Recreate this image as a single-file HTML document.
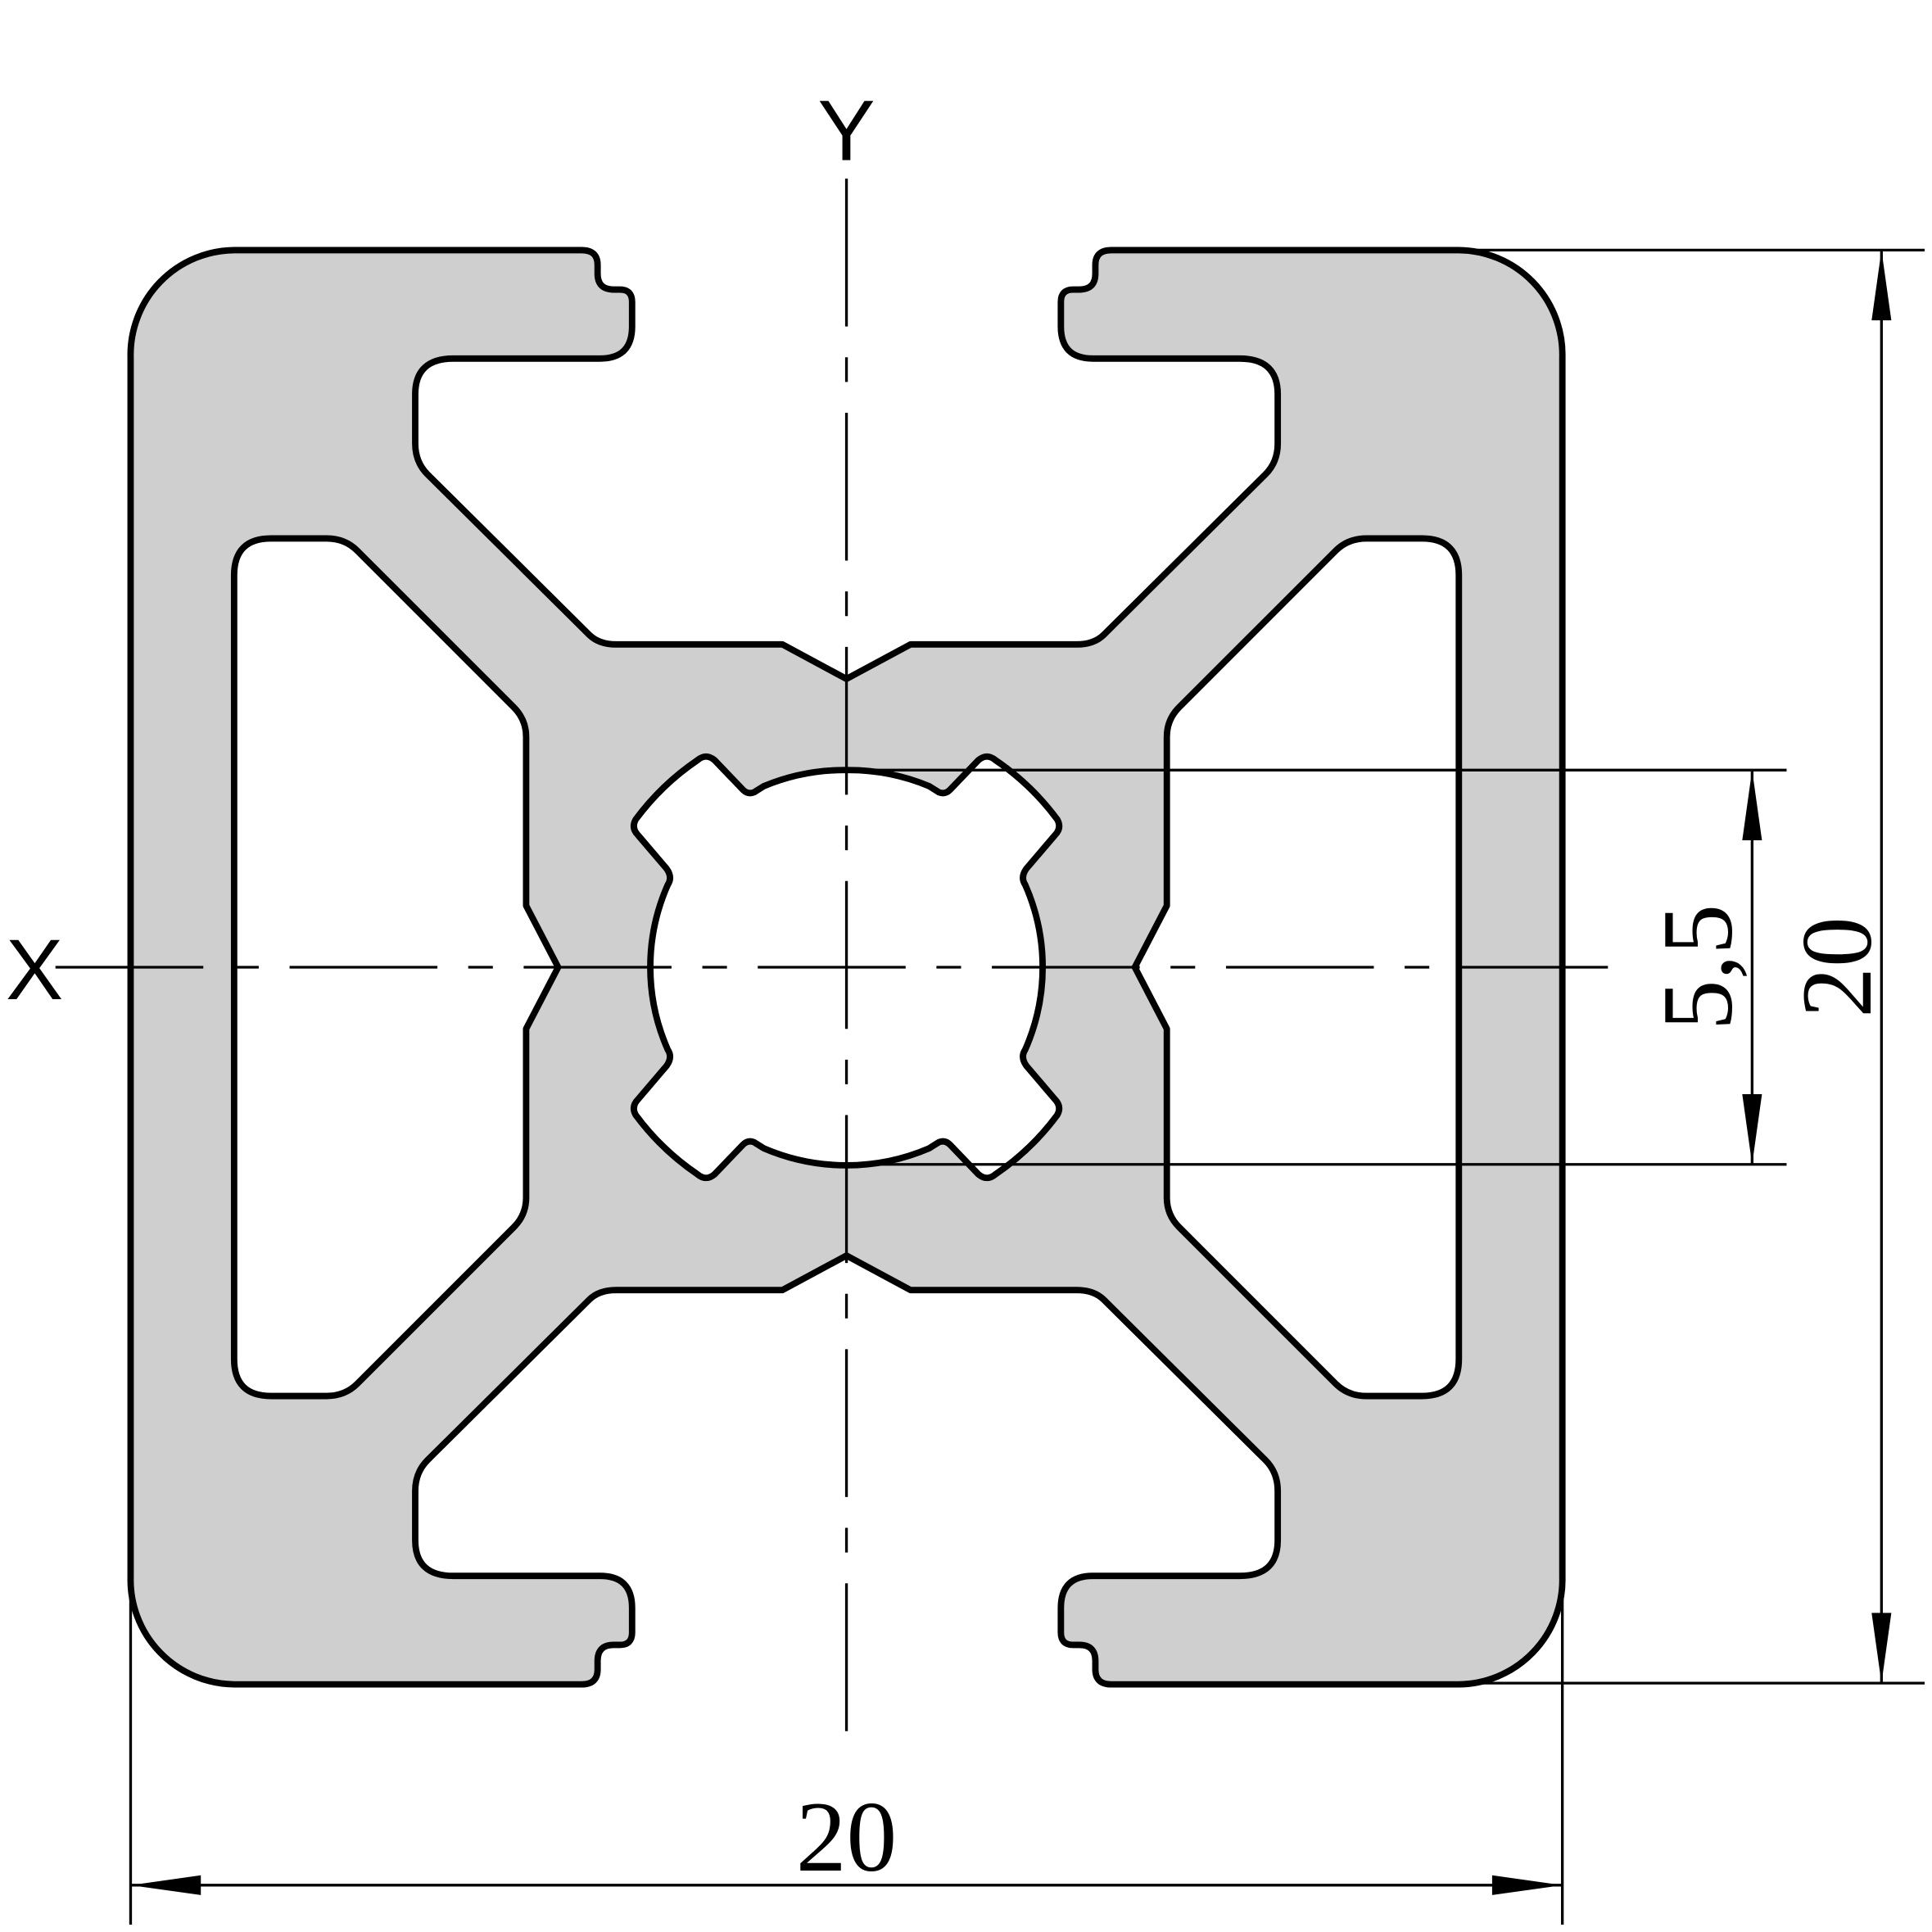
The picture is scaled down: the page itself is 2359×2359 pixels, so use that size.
<!DOCTYPE html>
<html><head><meta charset="utf-8"><style>html,body{margin:0;padding:0;background:#fff}svg{display:block}</style></head>
<body>
<svg width="2359" height="2359" viewBox="0 0 1568 1568" xmlns="http://www.w3.org/2000/svg">
<path fill="#cfcfcf" fill-rule="evenodd" stroke="#000" stroke-width="5.2" stroke-linejoin="round" d="
M106,290 A85,85 0 0 1 190,203 H472 Q485,203 485,215 V222 Q485,235 498,235 H503 Q513,235 513,245 V265 Q513,291 487,291 H368 Q337,291 337,320 V360 Q337,375 347,385 L478,515 Q486,523 500,523 H635 L687,551 L739,523 H874 Q888,523 896,515 L1027,385 Q1037,375 1037,360 V320 Q1037,291 1006,291 H887 Q861,291 861,265 V245 Q861,235 871,235 H876 Q889,235 889,222 V215 Q889,203 902,203 H1184 A85,85 0 0 1 1268,290
V1280 A85,85 0 0 1 1184,1367 H902 Q889,1367 889,1355 V1348 Q889,1335 876,1335 H871 Q861,1335 861,1325 V1305 Q861,1279 887,1279 H1006 Q1037,1279 1037,1250 V1210 Q1037,1195 1027,1185 L896,1055 Q888,1047 874,1047 H739 L687,1019 L635,1047 H500 Q486,1047 478,1055 L347,1185 Q337,1195 337,1210 V1250 Q337,1279 368,1279 H487 Q513,1279 513,1305 V1325 Q513,1335 503,1335 H498 Q485,1335 485,1348 V1355 Q485,1367 472,1367 H190 A85,85 0 0 1 106,1280 Z
M220,437 H265 Q280,437 290,447 L417,574 Q427,584 427,598 V735 L453,785 L427,835 V972 Q427,986 417,996 L290,1123 Q280,1133 265,1133 H220 Q190,1133 190,1103 V467 Q190,437 220,437 Z
M1154,437 H1109 Q1094,437 1084,447 L957,574 Q947,584 947,598 V735 L921,785 L947,835 V972 Q947,986 957,996 L1084,1123 Q1094,1133 1109,1133 H1154 Q1184,1133 1184,1103 V467 Q1184,437 1154,437 Z
M687,625 A170,170 0 0 0 620,638 L612,643 Q607,645 603,641 L580,617 Q573,611 566,617 A207,207 0 0 0 516,665 Q512,672 518,678 L541,705 Q546,712 542,718 A165,165 0 0 0 542,852 Q546,858 541,865 L518,892 Q512,898 516,905 A207,207 0 0 0 566,953 Q573,959 580,953 L603,929 Q607,925 612,927 L620,932 A170,170 0 0 0 754,932 L762,927 Q767,925 771,929 L794,953 Q801,959 808,953 A207,207 0 0 0 858,905 Q862,898 856,892 L833,865 Q828,858 832,852 A165,165 0 0 0 832,718 Q828,712 833,705 L856,678 Q862,672 858,665 A207,207 0 0 0 808,617 Q801,611 794,617 L771,641 Q767,645 762,643 L754,638 A170,170 0 0 0 687,625 Z"/>
<g stroke="#000" stroke-width="2.2" fill="none">
<line x1="45" y1="785" x2="1330" y2="785" stroke-dasharray="120 25 20 25"/>
<line x1="687" y1="145" x2="687" y2="1425" stroke-dasharray="120 25 20 25"/>
<line x1="1190" y1="203" x2="1562" y2="203"/>
<line x1="1190" y1="1366" x2="1562" y2="1366"/>
<line x1="1527" y1="203" x2="1527" y2="1366"/>
<line x1="687" y1="625" x2="1450" y2="625"/>
<line x1="687" y1="945" x2="1450" y2="945"/>
<line x1="1422" y1="625" x2="1422" y2="945"/>
<line x1="106" y1="1290" x2="106" y2="1562"/>
<line x1="1268" y1="1290" x2="1268" y2="1562"/>
<line x1="106" y1="1530" x2="1268" y2="1530"/>
</g>
<g fill="#000">
<polygon points="1527,203 1519,260 1535,260"/>
<polygon points="1527,1366 1519,1309 1535,1309"/>
<polygon points="1422,625 1414,682 1430,682"/>
<polygon points="1422,945 1414,888 1430,888"/>
<polygon points="106,1530 163,1522 163,1538"/>
<polygon points="1268,1530 1211,1522 1211,1538"/>
</g>
<g font-family="Liberation Serif, serif" font-size="82" fill="#000" text-anchor="middle">
<text x="687" y="1518">20</text>
<text transform="translate(1518,785) rotate(-90)">20</text>
<text transform="translate(1405,785) rotate(-90)">5,5</text>
</g>
<g font-family="Liberation Sans, sans-serif" font-size="70" fill="#000" text-anchor="middle">
<text x="28" y="811">X</text>
<text x="687" y="130">Y</text>
</g>
</svg>
</body></html>
